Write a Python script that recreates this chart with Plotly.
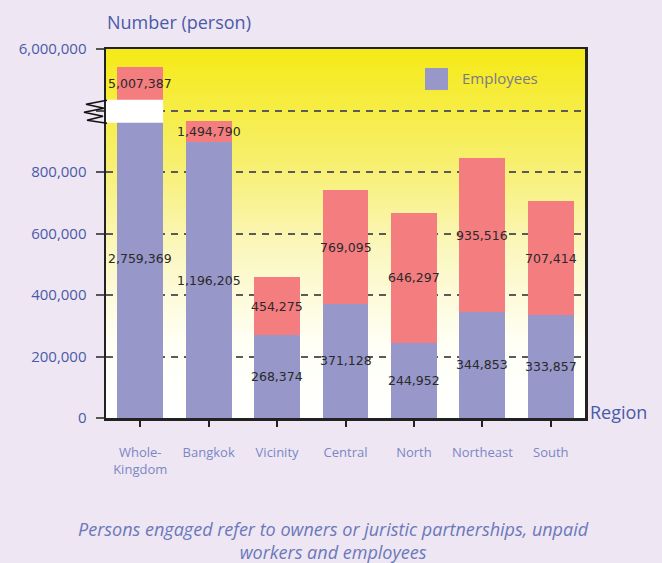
import base64
import plotly.graph_objects as go

# ---------------- data ----------------
categories = ["Whole-<br>Kingdom", "Bangkok", "Vicinity", "Central", "North", "Northeast", "South"]
# printed values
employees_label = [2759369, 1196205, 268374, 371128, 244952, 344853, 333857]
persons_label = [5007387, 1494790, 454275, 769095, 646297, 935516, 707414]
# bar heights as drawn on the (broken) axis
employees_bar = [1035000, 896000, 268374, 371128, 244952, 344853, 333857]
persons_bar = [1142000, 965000, 460000, 741000, 666000, 845000, 705000]
# axis ticks
y_tickvals = [0, 200000, 400000, 600000, 800000, 1000000, 1200000]
y_ticktext = ["0", "200,000", "400,000", "600,000", "800,000", "", "6,000,000"]
# axis break band (drawn units)
break_low, break_high = 960000, 1035000

# ---------------- style ----------------
PURPLE = "#9797c9"
RED = "#f47d80"
BLUE = "#4a5aa8"
LIGHTBLUE = "#7b86c4"
AXIS = "#222222"
BAR_W = 0.67
BG = "#eee6f3"

red_seg = [p - e for p, e in zip(persons_bar, employees_bar)]

fig = go.Figure()
fig.add_trace(go.Bar(x=list(range(len(categories))), y=employees_bar, name="Employees",
                     marker=dict(color=PURPLE, line=dict(width=0)), width=BAR_W, showlegend=False,
                     hoverinfo="skip"))
fig.add_trace(go.Bar(x=list(range(len(categories))), y=red_seg, name="Persons engaged",
                     marker=dict(color=RED, line=dict(width=0)), width=BAR_W, showlegend=False,
                     hoverinfo="skip"))

# value labels at segment midpoints
annotations = []
for i in range(len(categories)):
    annotations.append(dict(x=i, y=employees_bar[i] / 2, xref="x", yref="y",
                            text=f"{employees_label[i]:,}", showarrow=False,
                            font=dict(family="DejaVu Sans", size=12.5, color="#2a2a2a")))
    annotations.append(dict(x=i, y=(employees_bar[i] + persons_bar[i]) / 2, xref="x", yref="y",
                            text=f"{persons_label[i]:,}", showarrow=False,
                            font=dict(family="DejaVu Sans", size=12.5, color="#2a2a2a")))

# titles / notes
annotations += [
    dict(x=-0.002, y=1.073, xref="paper", yref="paper", xanchor="left", yanchor="middle",
         text="Number (person)", showarrow=False,
         font=dict(family="Open Sans", size=18, color=BLUE)),
    dict(x=1.006, y=0.016, xref="paper", yref="paper", xanchor="left", yanchor="middle",
         text="Region", showarrow=False,
         font=dict(family="Open Sans", size=18, color=BLUE)),
    dict(x=0.474, y=-0.331, xref="paper", yref="paper", xanchor="center", yanchor="middle",
         text="<i>Persons engaged refer to owners or juristic partnerships, unpaid<br>workers and employees</i>",
         showarrow=False, align="center",
         font=dict(family="Open Sans", size=18, color="#6b78ba")),
    dict(x=0.739, y=0.921, xref="paper", yref="paper", xanchor="left", yanchor="middle",
         text="Employees", showarrow=False,
         font=dict(family="Open Sans", size=15, color="#7a7a86")),
]

shapes = [
    # legend swatch
    dict(type="rect", xref="paper", yref="paper", x0=0.666, x1=0.714, y0=0.889, y1=0.9485,
         fillcolor=PURPLE, line=dict(width=0)),
    # axis break band through the first bar
    dict(type="rect", xref="x", yref="y", x0=-0.69, x1=BAR_W / 2, y0=break_low, y1=break_high,
         fillcolor="white", line=dict(width=0), layer="above"),
    # zigzag break mark
    dict(type="path", xref="paper", yref="y", xsizemode="pixel", ysizemode="pixel",
         xanchor=0, yanchor=(break_low + break_high) / 2,
         path="M 1,11 L -20,7 L -2,3 L -22,-1 L -3,-5 L -19,-9 L 1,-12",
         line=dict(color="#111111", width=1.5), layer="above"),
]

svg = ('<svg xmlns="http://www.w3.org/2000/svg" width="100" height="100" viewBox="0 0 100 100" '
       'preserveAspectRatio="none"><defs><linearGradient id="g" x1="0" y1="0" x2="0" y2="1">'
       '<stop offset="0" stop-color="#f5ea16"/><stop offset="0.3" stop-color="#f7ef6c"/>'
       '<stop offset="0.55" stop-color="#fbf7c0"/><stop offset="0.8" stop-color="#fffff6"/>'
       '<stop offset="1" stop-color="#ffffff"/></linearGradient></defs>'
       '<rect width="100" height="100" fill="url(#g)"/></svg>')
src = "data:image/svg+xml;base64," + base64.b64encode(svg.encode()).decode()

fig.update_layout(
    width=662, height=563,
    margin=dict(l=106, r=77, t=49, b=145),
    paper_bgcolor=BG,
    plot_bgcolor="rgba(0,0,0,0)",
    barmode="stack",
    bargap=0.33,
    showlegend=False,
    hovermode=False,
    annotations=annotations,
    shapes=shapes,
    images=[dict(source=src, xref="paper", yref="paper", x=0, y=1, sizex=1, sizey=1,
                 xanchor="left", yanchor="top", sizing="stretch", layer="below")],
    xaxis=dict(
        tickmode="array", tickvals=list(range(len(categories))), ticktext=categories,
        range=[-0.5, len(categories) - 0.5],
        showline=True, linecolor=AXIS, linewidth=2.5, mirror=True,
        ticks="outside", ticklen=6, tickwidth=2, tickcolor=AXIS,
        showgrid=False, zeroline=False,
        tickfont=dict(family="Open Sans", size=13, color=LIGHTBLUE),
        ticklabelstandoff=15,
    ),
    yaxis=dict(
        range=[0, 1200000], tickmode="array", tickvals=y_tickvals, ticktext=y_ticktext,
        showline=True, linecolor=AXIS, linewidth=2.5, mirror=True,
        ticks="outside", ticklen=8, tickwidth=2, tickcolor="#555555",
        showgrid=True, gridcolor="#5a5a5a", gridwidth=2, griddash="7px,6px",
        zeroline=False,
        tickfont=dict(family="Open Sans", size=15, color=BLUE),
        ticklabelstandoff=6,
    ),
)

fig.write_html(
    "out.html",
    config={"displayModeBar": False, "staticPlot": True},
    post_script=("document.body.style.margin='0';document.body.style.overflow='hidden';"
                 "document.body.style.background='" + BG + "';"),
)
